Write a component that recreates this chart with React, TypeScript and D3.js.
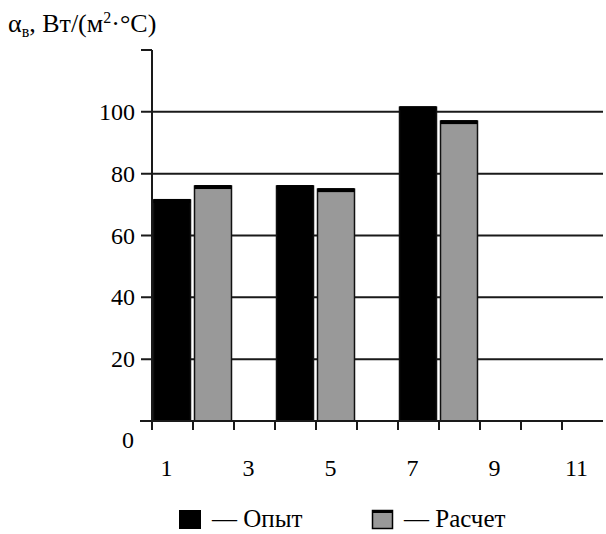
import React from "react";
import * as d3 from "d3";

// номера позиций по оси X
const positions = d3.range(1, 12);
const tickLabels = [1, 3, 5, 7, 9, 11];
const yTicks = [0, 20, 40, 60, 80, 100];

// опыт и расчет: позиция -> значение
const opytPos = [1, 4, 7];
const opytVal = [71.5, 76, 101.5];
const raschetPos = [2, 5, 8];
const raschetVal = [76, 75, 97];

const W = 606;
const H = 534;
const font = "Liberation Serif";

const App = () => {
  const x = d3.scaleBand<number>().domain(positions).range([152, 603]).padding(0);
  const y = d3.scaleLinear().domain([0, 120]).range([421, 50]);
  const bw = x.bandwidth() - 4;

  const bar = (p: number, v: number, fill: string, key: string) => {
    const bx = (x(p) as number) + 1.5;
    const by = y(v);
    return (
      <g key={key}>
        <rect x={bx} y={by} width={bw} height={y(0) - by} fill={fill} stroke="#111" strokeWidth={1.5} />
        <rect x={bx} y={by - 1} width={bw} height={4} fill="#000" />
      </g>
    );
  };

  return (
    <svg width={W} height={H} style={{ position: "absolute", left: 0, top: 0, background: "#fff" }}>
      {/* заголовок оси Y */}
      <text x={8} y={32} fontFamily={font} fontSize={26} fill="#000">
        α
        <tspan fontSize={16} dy={5}>в</tspan>
        <tspan dy={-5}>, Вт/(м</tspan>
        <tspan fontSize={16} dy={-9}>2</tspan>
        <tspan dy={9}>·°C)</tspan>
      </text>

      {/* сетка */}
      {yTicks.filter((t) => t > 0).map((t) => (
        <line key={t} x1={141} x2={603} y1={y(t)} y2={y(t)} stroke="#1a1a1a" strokeWidth={2} />
      ))}

      {/* столбцы */}
      {opytPos.map((p, i) => bar(p, opytVal[i], "#000", "o" + p))}
      {raschetPos.map((p, i) => bar(p, raschetVal[i], "#999", "r" + p))}

      {/* оси */}
      <line x1={152} x2={152} y1={y(0)} y2={50} stroke="#1a1a1a" strokeWidth={2} />
      <line x1={141} x2={152} y1={50} y2={50} stroke="#1a1a1a" strokeWidth={2} />
      <line x1={140} x2={603} y1={y(0)} y2={y(0)} stroke="#1a1a1a" strokeWidth={2} />
      {positions.map((p) => (
        <line key={p} x1={x(p) as number} x2={x(p) as number} y1={y(0)} y2={y(0) + 9} stroke="#1a1a1a" strokeWidth={2} />
      ))}

      {/* подписи оси Y */}
      {yTicks.map((t) => (
        <text
          key={t}
          x={t === 0 ? 134 : 135}
          y={t === 0 ? 448 : y(t) + 8}
          textAnchor="end"
          fontFamily={font}
          fontSize={24}
        >
          {t}
        </text>
      ))}

      {/* подписи оси X */}
      {tickLabels.map((t) => (
        <text
          key={t}
          x={(x(t) as number) + x.bandwidth() / 2 - 6}
          y={476}
          textAnchor="middle"
          fontFamily={font}
          fontSize={24}
        >
          {t}
        </text>
      ))}

      {/* легенда */}
      <rect x={179} y={510} width={22} height={19} fill="#000" />
      <text x={212} y={527} fontFamily={font} fontSize={25}>— Опыт</text>
      <rect x={372.5} y={510.5} width={20} height={18} fill="#999" stroke="#000" strokeWidth={1.5} />
      <rect x={372.5} y={510} width={20} height={3} fill="#000" />
      <text x={404} y={527} fontFamily={font} fontSize={25}>— Расчет</text>
    </svg>
  );
};

export default App;
